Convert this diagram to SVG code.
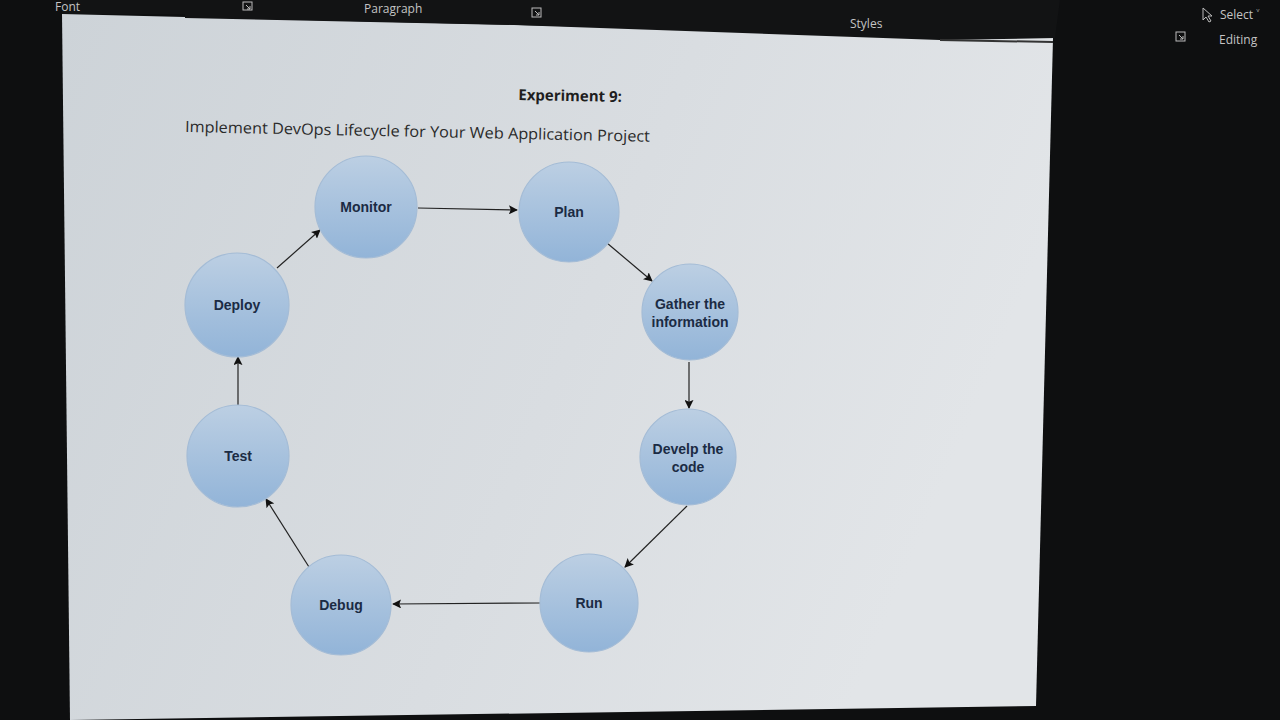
<svg xmlns="http://www.w3.org/2000/svg" width="1280" height="720" viewBox="0 0 1280 720">
<defs>
<linearGradient id="pageG" x1="0" y1="0" x2="1" y2="0.3">
<stop offset="0" stop-color="#cdd3d8"/>
<stop offset="0.6" stop-color="#d9dde1"/>
<stop offset="1" stop-color="#e2e5e8"/>
</linearGradient>
<linearGradient id="nodeG" x1="0" y1="0" x2="0" y2="1">
<stop offset="0" stop-color="#bccfe3"/>
<stop offset="1" stop-color="#92b4d8"/>
</linearGradient>
<marker id="ah" viewBox="0 0 10 10" refX="9" refY="5" markerWidth="9" markerHeight="9" markerUnits="userSpaceOnUse" orient="auto">
<path d="M0,0 L10,5 L0,10 L2,5 z" fill="#111"/>
</marker>
</defs>
<style>
.node circle{fill:url(#nodeG);stroke:#a4bcd6;stroke-width:1.2}
.node text{font-family:"Liberation Sans",Arial,sans-serif;font-size:14px;font-weight:bold;fill:#1b2b44;text-anchor:middle}
.conn line{stroke:#222;stroke-width:1.2;marker-end:url(#ah)}
.ui{font-family:"Open Sans","Noto Sans",sans-serif;font-size:12px;fill:#c4c4c4}
.ico{fill:none;stroke:#bbb;stroke-width:1}
</style>
<rect width="1280" height="720" fill="#0e0f10"/>
<polygon points="62,14 1053,38 1036,706 70,720" fill="url(#pageG)"/>
<polygon points="185,0 1060,0 1055,38 940,40 514,25 185,18" fill="#121314"/>
<polygon points="0,0 185,0 185,14 62,14 62,0" fill="#121314"/>
<line x1="940" y1="40" x2="1053" y2="42" stroke="#333" stroke-width="2"/>
<text class="ui" x="55" y="11" font-size="10">Font</text>
<g class="ico"><rect x="243" y="2" width="9" height="8"/><path d="M246,5 L250,9 M247,9 L250,9 L250,6"/></g>
<text class="ui" x="364" y="13">Paragraph</text>
<g class="ico"><rect x="532" y="8" width="9" height="9"/><path d="M535,11 L539,15 M536,15 L539,15 L539,12"/></g>
<text class="ui" x="850" y="28">Styles</text>
<g class="ico"><rect x="1176" y="32" width="9" height="9"/><path d="M1179,35 L1183,39 M1180,39 L1183,39 L1183,36"/></g>
<path d="M1203,8 L1203,20 L1206,17 L1209,22 L1211,21 L1208,16 L1212,16 z" fill="none" stroke="#bbb" stroke-width="1"/>
<text class="ui" x="1220" y="19">Select ˅</text>
<text class="ui" x="1219" y="44" font-size="11">Editing</text>
<g id="title">
<text x="570" y="101" text-anchor="middle" font-family="'Open Sans','Noto Sans',sans-serif" font-size="15" font-weight="bold" fill="#1e1e1e" transform="rotate(1 570 101)">Experiment 9:</text>
<text x="185" y="132" font-family="'Open Sans','Noto Sans',sans-serif" font-size="15.5" fill="#2a2a2a" textLength="465" lengthAdjust="spacingAndGlyphs" transform="rotate(1.2 185 132)">Implement DevOps Lifecycle for Your Web Application Project</text>
</g>
<g id="connectors" class="conn">
<line x1="418" y1="208" x2="517" y2="210"/>
<line x1="607" y1="243" x2="652" y2="281"/>
<line x1="689" y1="362" x2="689" y2="408"/>
<line x1="687" y1="506" x2="625" y2="567"/>
<line x1="540" y1="603" x2="393" y2="604"/>
<line x1="309" y1="567" x2="266" y2="499"/>
<line x1="238" y1="406" x2="238" y2="357"/>
<line x1="277" y1="268" x2="320" y2="230"/>
</g>
<g id="monitor" class="node"><circle cx="366" cy="207" r="51"/><text x="366" y="212">Monitor</text></g>
<g id="plan" class="node"><circle cx="569" cy="212" r="50"/><text x="569" y="217">Plan</text></g>
<g id="gather" class="node"><circle cx="690" cy="312" r="48"/><text x="690" y="309">Gather the</text><text x="690" y="327">information</text></g>
<g id="develop" class="node"><circle cx="688" cy="457" r="48"/><text x="688" y="454">Develp the</text><text x="688" y="472">code</text></g>
<g id="run" class="node"><circle cx="589" cy="603" r="49"/><text x="589" y="608">Run</text></g>
<g id="debug" class="node"><circle cx="341" cy="605" r="50"/><text x="341" y="610">Debug</text></g>
<g id="test" class="node"><circle cx="238" cy="456" r="51"/><text x="238" y="461">Test</text></g>
<g id="deploy" class="node"><circle cx="237" cy="305" r="52"/><text x="237" y="310">Deploy</text></g>
</svg>
